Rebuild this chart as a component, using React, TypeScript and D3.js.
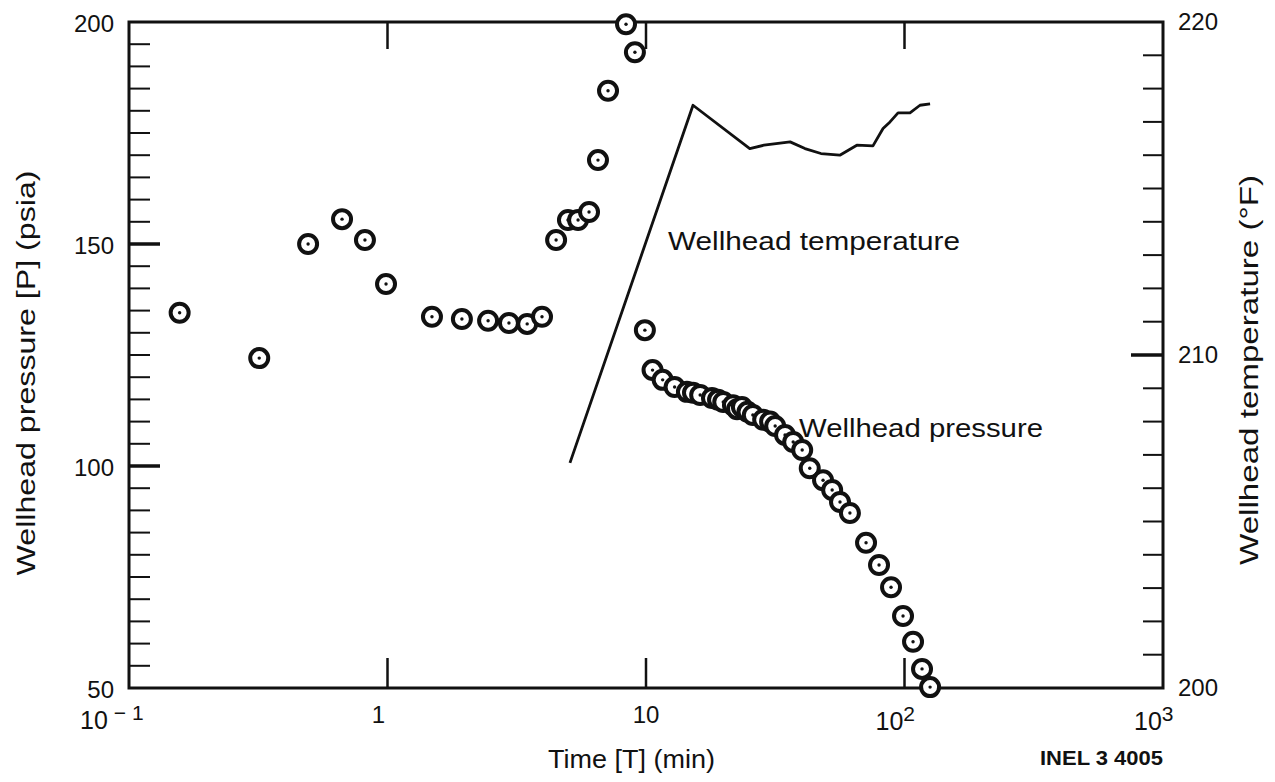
import React from "react";
import * as d3 from "d3";

// ---- Data ----
const pressureTime = [
  0.157, 0.319, 0.493, 0.667, 0.818, 0.987, 1.486, 1.94, 2.45, 2.95, 3.47, 3.96,
  4.49, 4.99, 5.46, 6.02, 6.52, 7.13, 8.37, 9.06, 9.9,
  10.6, 11.6, 12.9, 14.4, 15.2, 16.2, 18.0, 19.0, 19.9, 21.7, 22.5, 23.5, 24.7, 25.9,
  28.4, 30.2, 31.6, 34.5, 37.1, 40.2,
  43.0, 48.4, 52.5, 56.3, 61.5, 71.0, 79.7, 88.7, 98.7, 107.9, 116.9, 125.6,
];
const pressureValue = [
  134.5, 124.3, 150.0, 155.6, 150.9, 141.0, 133.6, 133.1, 132.7, 132.2, 132.0, 133.6,
  150.9, 155.4, 155.4, 157.2, 168.9, 184.5, 199.5, 193.2, 130.6,
  121.6, 119.4, 117.8, 116.7, 116.5, 116.0, 115.3, 114.9, 114.4, 113.7, 112.8, 113.3, 112.2, 111.5,
  110.4, 110.0, 109.0, 107.0, 105.4, 103.6,
  99.5, 96.8, 94.6, 91.9, 89.4, 82.7, 77.7, 72.7, 66.2, 60.4, 54.3, 50.2,
];

const tempTime = [5.08, 15.2, 25.2, 28.6, 36.1, 41.2, 47.5, 56.2, 65.4, 75.5, 82.6, 87.9, 94.4, 105, 114.8, 125.6];
const tempValue = [206.76, 217.5, 216.2, 216.3, 216.4, 216.2, 216.05, 216.0, 216.3, 216.28, 216.8, 217.0, 217.27, 217.27, 217.5, 217.54];

const timeTicks = [0.1, 1, 10, 100, 1000];
const timeTickExp = ["− 1", "", "", "2", "3"];
const pressureTicks = [50, 100, 150, 200];
const tempTicks = [200, 210, 220];

const FONT = "'Liberation Sans', Arial, Helvetica, sans-serif";

export default function App() {
  const W = 1275, H = 782;
  const left = 129, right = 1163, top = 22, bottom = 688;
  const x = d3.scaleLog().domain([0.1, 1000]).range([left, right]);
  const yP = d3.scaleLinear().domain([50, 200]).range([bottom, top]);
  const yT = d3.scaleLinear().domain([200, 220]).range([bottom, top]);

  const minorP = d3.range(55, 200, 5).filter((v) => v % 50 !== 0);
  const minorT = d3.range(201, 220, 1).filter((v) => v % 10 !== 0);

  const line = d3
    .line<number>()
    .x((_, i) => x(tempTime[i]))
    .y((d) => yT(d));

  const ink = "#111";

  return (
    <svg
      width={W}
      height={H}
      style={{ position: "absolute", left: 0, top: 0, background: "#fff" }}
      fontFamily={FONT}
    >
      <rect x={0} y={0} width={W} height={H} fill="#fff" />

      {/* Frame */}
      <rect x={left} y={top} width={right - left} height={bottom - top} fill="none" stroke={ink} strokeWidth={3} />

      {/* Left minor ticks */}
      {minorP.map((v) => (
        <line key={"mp" + v} x1={left} x2={left + 21} y1={yP(v)} y2={yP(v)} stroke={ink} strokeWidth={2} />
      ))}
      {pressureTicks
        .filter((v) => v !== 50 && v !== 200)
        .map((v) => (
          <line key={"MP" + v} x1={left} x2={left + 31} y1={yP(v)} y2={yP(v)} stroke={ink} strokeWidth={3.5} />
        ))}
      {/* Right minor ticks */}
      {minorT.map((v) => (
        <line key={"mt" + v} x1={right} x2={right - 20} y1={yT(v)} y2={yT(v)} stroke={ink} strokeWidth={2} />
      ))}
      {tempTicks
        .filter((v) => v !== 200 && v !== 220)
        .map((v) => (
          <line key={"MT" + v} x1={right} x2={right - 32} y1={yT(v)} y2={yT(v)} stroke={ink} strokeWidth={3.5} />
        ))}
      {/* Top & bottom decade ticks */}
      {timeTicks
        .filter((t) => t !== 0.1 && t !== 1000)
        .map((t) => (
          <g key={"tt" + t}>
            <line x1={x(t)} x2={x(t)} y1={top} y2={top + 27} stroke={ink} strokeWidth={2.5} />
            <line x1={x(t)} x2={x(t)} y1={bottom} y2={bottom - 30} stroke={ink} strokeWidth={2.5} />
          </g>
        ))}

      {/* Left tick labels */}
      {pressureTicks.map((v) => (
        <text key={"lp" + v} x={left - 15} y={yP(v) + 10} textAnchor="end" fontSize={24} fill={ink}>
          {v}
        </text>
      ))}
      {/* Right tick labels */}
      {tempTicks.map((v) => (
        <text key={"lt" + v} x={right + 15} y={yT(v) + 8} textAnchor="start" fontSize={24} fill={ink}>
          {v}
        </text>
      ))}
      {/* X tick labels */}
      {timeTicks.map((t, i) => {
        const exp = timeTickExp[i];
        if (!exp) {
          return (
            <text key={"xt" + t} x={x(t) - (t === 1 ? 9 : 0)} y={723} textAnchor="middle" fontSize={24} fill={ink}>
              {String(t)}
            </text>
          );
        }
        const startX = t === 0.1 ? x(t) - 49 : x(t) - 29;
        return (
          <text key={"xt" + t} x={startX} y={t === 0.1 ? 729 : 730} textAnchor="start" fontSize={25} fill={ink}>
            <tspan>10</tspan>
            <tspan dy={-9} dx={t === 0.1 ? 6 : 0} fontSize={21}>
              {exp}
            </tspan>
          </text>
        );
      })}

      {/* Axis titles */}
      <text x={548} y={768} fontSize={25} fill={ink} textLength={167} lengthAdjust="spacingAndGlyphs">
        Time [T] (min)
      </text>
      <text x={1040} y={765} fontSize={21} fontWeight="bold" fill={ink} textLength={123} lengthAdjust="spacingAndGlyphs">
        INEL 3 4005
      </text>
      <text
        transform={`translate(35, 373) rotate(-90)`}
        textAnchor="middle"
        fontSize={26}
        fill={ink}
        textLength={405}
        lengthAdjust="spacingAndGlyphs"
      >
        Wellhead pressure [P] (psia)
      </text>
      <text
        transform={`translate(1258, 370) rotate(-90)`}
        textAnchor="middle"
        fontSize={26}
        fill={ink}
        textLength={390}
        lengthAdjust="spacingAndGlyphs"
      >
        Wellhead temperature (°F)
      </text>

      {/* Annotations */}
      <text x={668} y={250} fontSize={25} fill={ink} textLength={292} lengthAdjust="spacingAndGlyphs">
        Wellhead temperature
      </text>
      <text x={799} y={437} fontSize={25} fill={ink} textLength={244} lengthAdjust="spacingAndGlyphs">
        Wellhead pressure
      </text>

      {/* Temperature line */}
      <path d={line(tempValue) || ""} fill="none" stroke={ink} strokeWidth={2.8} strokeLinejoin="round" />

      {/* Pressure markers */}
      {pressureTime.map((t, i) => (
        <g key={"p" + i}>
          <circle cx={x(t)} cy={yP(pressureValue[i])} r={9} fill="#fff" stroke={ink} strokeWidth={4} />
          <circle cx={x(t)} cy={yP(pressureValue[i])} r={1.7} fill={ink} />
        </g>
      ))}
    </svg>
  );
}
